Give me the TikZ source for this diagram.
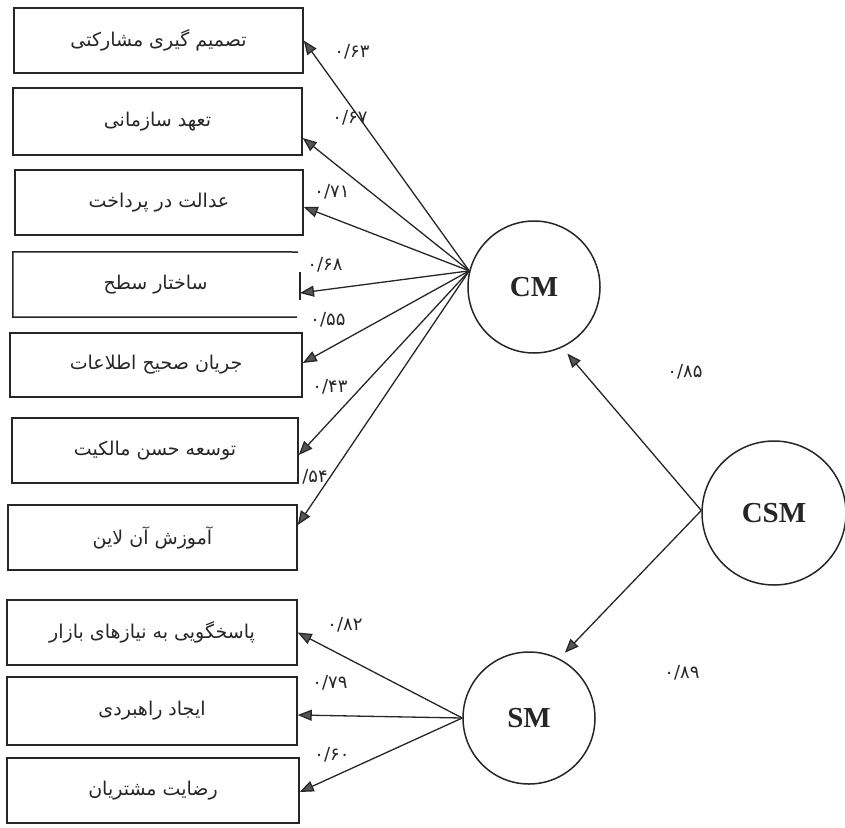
\documentclass[tikz,border=0pt]{standalone}
\usepackage{fontspec}
\setmainfont{Liberation Serif}
\newfontfamily\fa[Script=Arabic]{DejaVu Sans}
\TeXXeTstate=1
\usetikzlibrary{arrows.meta}
\definecolor{ink}{HTML}{262626}
\definecolor{headfill}{HTML}{555555}
\tikzset{
  box/.style={draw=ink, line width=1.5pt, minimum width=289pt, minimum height=65pt, inner sep=0pt},
  txt/.style={font=\fa\fontsize{19}{22}\selectfont, text=ink},
  latent/.style={draw=ink, line width=1.5pt, circle, inner sep=0pt, font=\bfseries\fontsize{29}{32}\selectfont, text=ink},
  load/.style={font=\fa\fontsize{18}{20}\selectfont, text=ink, inner sep=0pt},
  arr/.style={draw=ink, line width=1.3pt, -{Triangle[length=14pt, width=11pt, fill=headfill]}},
}
\newcommand{\fatext}[1]{\beginR #1\endR}
\begin{document}
\begin{tikzpicture}[x=1pt, y=-1pt]
  \useasboundingbox (0,0) rectangle (845,827);

  % indicator boxes of CM
  \node[box, txt] (b1) at (158.5,40.5) {\fatext{تصمیم گیری مشارکتی}};
  \node[box, txt, minimum height=67pt] (b2) at (157.5,121.5) {\fatext{تعهد سازمانی}};
  \node[box, txt, minimum width=288pt] (b3) at (159,202.5) {\fatext{عدالت در پرداخت}};
  % box with an open right side
  \node[txt, minimum width=285pt, minimum height=65pt, inner sep=0pt] (b4) at (155.5,284.5) {\fatext{ساختار سطح}};
  \draw[ink, line width=1.5pt] (298,252) -- (b4.north west) -- (b4.south west) -- (297,317);
  \coordinate (b4bar1) at (300,272);
  \coordinate (b4bar2) at (300,300);
  \draw[ink, line width=1.5pt] (b4bar1) -- (b4bar2);
  \node[box, txt, minimum width=292pt, minimum height=64pt] (b5) at (156,365) {\fatext{جریان صحیح اطلاعات}};
  \node[box, txt, minimum width=286pt] (b6) at (155,450.5) {\fatext{توسعه حسن مالکیت}};
  \node[box, txt] (b7) at (152.5,537.5) {\fatext{آموزش آن لاین}};

  % indicator boxes of SM
  \node[box, txt, minimum width=290pt] (b8) at (152,632.5) {\fatext{پاسخگویی به نیازهای بازار}};
  \node[box, txt, minimum width=290pt, minimum height=68pt] (b9) at (152,711) {\fatext{ایجاد راهبردی}};
  \node[box, txt, minimum width=292pt] (b10) at (153,790.5) {\fatext{رضایت مشتریان}};

  % latent variables
  \node[latent, minimum size=132pt] (cm) at (534,287) {CM};
  \node[latent, minimum size=132pt] (sm) at (529,718) {SM};
  \node[latent, minimum size=144pt] (csm) at (774,513) {CSM};

  % loadings of CM
  \coordinate (cmhub) at (cm.166);
  \draw[arr] (cmhub) -- (b1.east);
  \draw[arr] (cmhub) -- ([yshift=-16.5pt]b2.east);
  \draw[arr] (cmhub) -- ([yshift=-4.5pt]b3.east);
  \coordinate (b4tip) at (300,293);
  \draw[arr] (cmhub) -- (b4tip);
  \draw[arr] (cmhub) -- ([yshift=2pt]b5.east);
  \draw[arr] (cmhub) -- ([yshift=-4.5pt]b6.east);
  \draw[arr] (cmhub) -- ([yshift=12.5pt]b7.east);

  % loadings of SM
  \coordinate (smhub) at (sm.180);
  \draw[arr] (smhub) -- (b8.east);
  \draw[arr] (smhub) -- ([yshift=-4pt]b9.east);
  \draw[arr] (smhub) -- ([yshift=-1.5pt]b10.east);

  % second-order paths
  \coordinate (csmhub) at (csm.178);
  \draw[arr, shorten >=8pt] (csmhub) -- (cm.-65);
  \draw[arr, shorten >=8pt] (csmhub) -- (sm.63);

  % coefficients
  \node[load] (l1) at (352,52) {۰/۶۳};
  \node[load] (l2) at (350,118) {۰/۶۷};
  \node[load] (l3) at (332,192) {۰/۷۱};
  \node[load] (l4) at (325,265) {۰/۶۸};
  \node[load] (l5) at (328,320) {۰/۵۵};
  \node[load] (l6) at (330,387) {۰/۴۳};
  \node[load] (l7) at (315,477) {/\kern0pt ۵۴};
  \node[load] (l8) at (345,625) {۰/۸۲};
  \node[load] (l9) at (330,683) {۰/۷۹};
  \node[load] (l10) at (332,755) {۰/۶۰};
  \node[load] (l11) at (685,372) {۰/۸۵};
  \node[load] (l12) at (682,673) {۰/۸۹};
\end{tikzpicture}
\end{document}
